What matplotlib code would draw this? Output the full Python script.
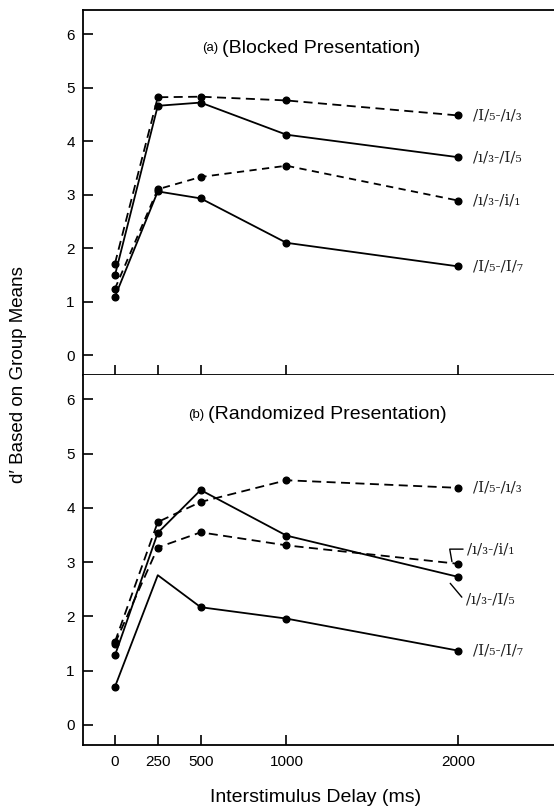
import matplotlib
matplotlib.use("Agg")
import matplotlib.pyplot as plt

plt.rcParams['font.family'] = ['Liberation Sans', 'DejaVu Sans']

delays = [0, 250, 500, 1000, 2000]
xtick_labels = ["0", "250", "500", "1000", "2000"]
yticks = [0, 1, 2, 3, 4, 5, 6]

# Panel (a) Blocked
a_I5_i3 = [1.71, 4.82, 4.83, 4.76, 4.48]   # dashed
a_i3_I5 = [1.49, 4.66, 4.72, 4.12, 3.70]   # solid
a_i3_i1 = [1.24, 3.10, 3.33, 3.54, 2.89]   # dashed
a_I5_I7 = [1.09, 3.06, 2.93, 2.10, 1.66]   # solid

# Panel (b) Randomized
b_I5_i3 = [1.53, 3.74, 4.11, 4.51, 4.37]   # dashed
b_i3_I5 = [1.28, 3.54, 4.33, 3.49, 2.73]   # solid
b_i3_i1 = [1.50, 3.27, 3.55, 3.31, 2.97]   # dashed
b_I5_I7 = [0.70, 2.76, 2.17, 1.96, 1.37]   # solid

lab_I5_i3 = "/I/\u2085-/\u0131/\u2083"
lab_i3_I5 = "/\u0131/\u2083-/I/\u2085"
lab_i3_i1 = "/\u0131/\u2083-/i/\u2081"
lab_I5_I7 = "/I/\u2085-/I/\u2087"

W, H = 554, 810
fig = plt.figure(figsize=(W / 100, H / 100), dpi=100)
left = 83 / W
# top panel: y from 10 px to 375 px; bottom panel: 375 px to 745 px
ax1 = fig.add_axes([left, (H - 375) / H, 1 - left, (375 - 10) / H])
ax2 = fig.add_axes([left, (H - 745) / H, 1 - left, (745 - 375) / H])

dash = (0, (5, 3))
serif = ['DejaVu Serif']

def draw(ax, series, ylim):
    for vals, ls, mevery in series:
        ax.plot(delays, vals, color='black', lw=1.3, linestyle=ls,
                marker='o', markersize=4.8, markerfacecolor='black',
                markeredgecolor='black', markevery=mevery)
    ax.set_xlim(-186, 2560)
    ax.set_ylim(*ylim)
    ax.set_yticks(yticks)
    ax.set_xticks(delays)
    ax.tick_params(direction='in', length=7, width=1.2, labelsize=11)
    ax.tick_params(axis='y', pad=6)
    ax.spines['right'].set_visible(False)
    for s in ['left', 'top', 'bottom']:
        ax.spines[s].set_linewidth(1.3)

draw(ax1, [(a_I5_i3, dash, None), (a_i3_I5, '-', None),
           (a_i3_i1, (0, (4, 3)), None), (a_I5_I7, '-', None)],
     (-0.37, 6.45))
draw(ax2, [(b_I5_i3, dash, None), (b_i3_I5, '-', None),
           (b_i3_i1, dash, None), (b_I5_I7, '-', [0, 2, 3, 4])],
     (-0.37, 6.45))
ax2.spines['top'].set_visible(False)

ax1.set_xticklabels([])
ax2.set_xticklabels(xtick_labels)
ax2.tick_params(axis='x', pad=7)

lab_kw = dict(textcoords='offset points', va='center', ha='left',
              fontsize=11, family=serif, color='#222222')

# Labels panel a
for vals, lab in [(a_I5_i3, lab_I5_i3), (a_i3_I5, lab_i3_I5),
                  (a_i3_i1, lab_i3_i1), (a_I5_I7, lab_I5_I7)]:
    ax1.annotate(lab, xy=(delays[-1], vals[-1]), xytext=(11, 0), **lab_kw)

# Labels panel b
ax2.annotate(lab_I5_i3, xy=(delays[-1], b_I5_i3[-1]), xytext=(11, 0), **lab_kw)
ax2.annotate(lab_I5_I7, xy=(delays[-1], b_I5_I7[-1]), xytext=(11, 0), **lab_kw)
ax2.annotate(lab_i3_i1, xy=(delays[-1] - 35, b_i3_i1[-1] + 0.04), xytext=(11, 9),
             arrowprops=dict(arrowstyle='-', color='black', lw=1.0,
                             connectionstyle='angle,angleA=0,angleB=100,rad=0',
                             shrinkA=1, shrinkB=0), **lab_kw)
ax2.annotate(lab_i3_I5, xy=(delays[-1] - 45, b_i3_I5[-1] - 0.12), xytext=(11, -12),
             arrowprops=dict(arrowstyle='-', color='black', lw=1.0,
                             connectionstyle='angle,angleA=0,angleB=-50,rad=0',
                             shrinkA=1, shrinkB=0), **lab_kw)

# Panel titles
ax1.text(0.288, 0.895, "(a)", transform=ax1.transAxes, ha='right', va='center', fontsize=9.5)
ax1.text(0.295, 0.895, "(Blocked Presentation)", transform=ax1.transAxes,
         ha='left', va='center', fontsize=14)
ax2.text(0.258, 0.893, "(b)", transform=ax2.transAxes, ha='right', va='center', fontsize=9.5)
ax2.text(0.265, 0.893, "(Randomized Presentation)", transform=ax2.transAxes,
         ha='left', va='center', fontsize=14)

fig.text(19 / W, 1 - 375 / H, "d\u2032 Based on Group Means", rotation=90,
         ha='center', va='center', fontsize=13.5)
fig.text(316 / W, 1 - 797 / H, "Interstimulus Delay (ms)", ha='center', va='center',
         fontsize=14)

fig.savefig("out.png", dpi=100)
